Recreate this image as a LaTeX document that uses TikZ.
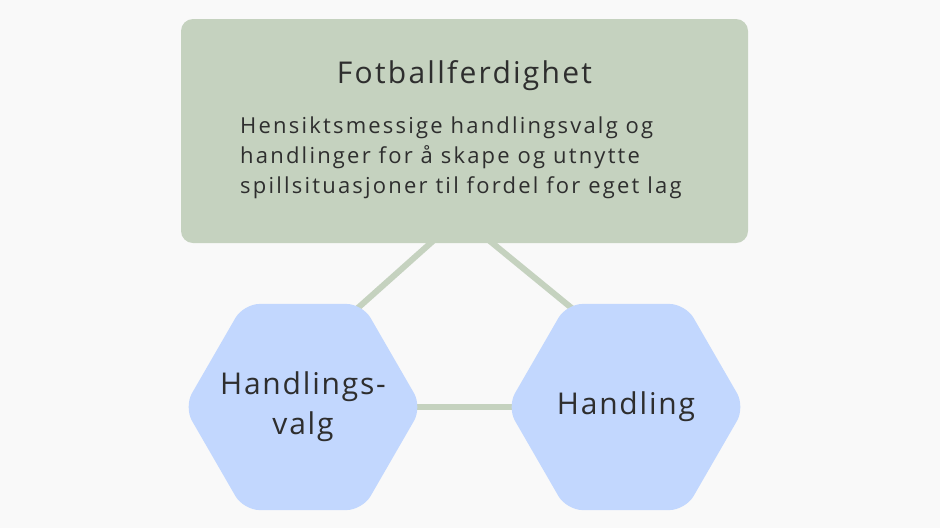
\documentclass[tikz,border=0pt]{standalone}
\usepackage{fontspec}
\setmainfont{Open Sans}[LetterSpace=6]
\newfontfamily\titlefont{Open Sans}[LetterSpace=7.5]
\newfontfamily\bodyfont{Open Sans}[LetterSpace=10]
\usetikzlibrary{shapes,calc,backgrounds}
\definecolor{bgcol}{HTML}{F9F9F9}
\definecolor{boxgreen}{HTML}{C5D2BF}
\definecolor{hexblue}{HTML}{C2D7FE}
\definecolor{txt}{HTML}{2E2E2E}

\begin{document}
\begin{tikzpicture}[x=1pt,y=-1pt,
  hexa/.style={regular polygon,regular polygon sides=6,minimum size=238pt,inner sep=0pt,
    fill=hexblue,rounded corners=16pt},
  hexlabel/.style={text=txt,align=center,font=\fontsize{30}{40}\selectfont},
  link/.style={draw=boxgreen,line width=6pt}]
\useasboundingbox (0,0) rectangle (940,528);
\begin{scope}[on background layer]
\fill[bgcol] (0,0) rectangle (940,528);
\end{scope}

\node[fill=boxgreen,rounded corners=12pt,inner sep=0pt,minimum width=567pt,minimum height=224pt] (B) at (464.5,131) {};
\node[text=txt,font=\titlefont\fontsize{30}{36}\selectfont] (T) at (464.5,76) {Fotballferdighet};
\node[text=txt,anchor=north west,inner sep=0pt,align=left,font=\bodyfont\fontsize{22}{30}\selectfont] (D) at (240,116.5)
  {Hensiktsmessige handlingsvalg og\\handlinger for å skape og utnytte\\spillsituasjoner til fordel for eget lag};

\node[hexa] (HV) at (303,407) {};
\node[hexa] (H) at (626,407) {};
\node[hexlabel] (HVt) at (HV) {Handlings-\\valg};
\node[hexlabel] (Ht) at (H) {Handling};

\begin{scope}[on background layer]
\draw[link,shorten <=-4pt,shorten >=-12pt] ($(B.south)+(-34,0)$) -- (HV.corner 1);
\draw[link,shorten <=-4pt,shorten >=-12pt] ($(B.south)+(28,0)$) -- (H.corner 2);
\draw[link,shorten <=-12pt,shorten >=-12pt] (HV.corner 6) -- (H.corner 3);
\end{scope}
\end{tikzpicture}
\end{document}
